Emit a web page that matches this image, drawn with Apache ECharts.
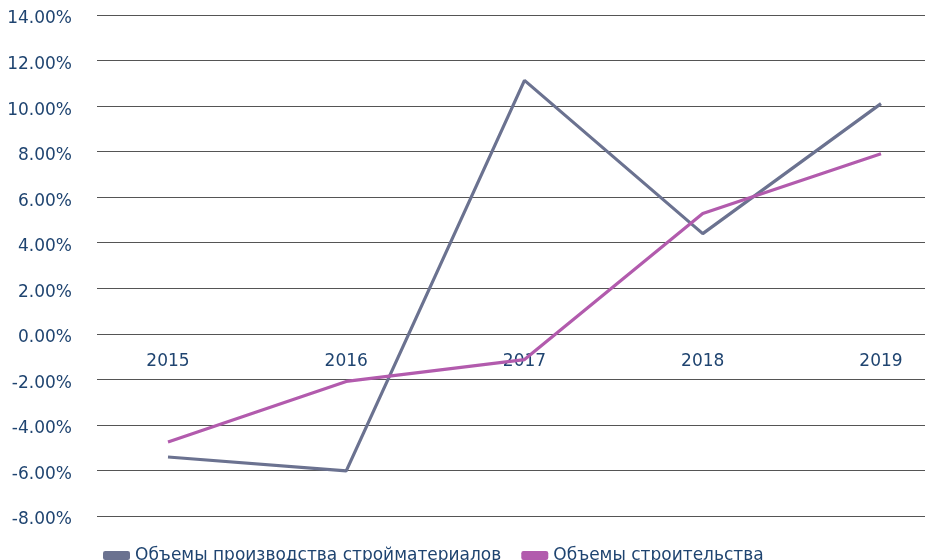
<!DOCTYPE html>
<html>
<head>
<meta charset="utf-8">
<script src="https://cdn.jsdelivr.net/npm/echarts@6/dist/echarts.min.js"></script>
<style>
  html, body { margin: 0; padding: 0; background: #fff; }
  #chart { width: 925px; height: 560px; }
</style>
</head>
<body>
<div id="chart"></div>
<script>
// данные (в процентах)
const years = ['2015', '2016', '2017', '2018', '2019'];
const materials = [-5.41, -6.02, 11.13, 4.40, 10.11];
const construction = [-4.75, -2.09, -1.13, 5.28, 7.91];
const seriesNames = ['Объемы производства стройматериалов', 'Объемы строительства'];

const textColor = '#1f4470';
const font = 'DejaVu Sans';
const yMin = -8, yMax = 14;

const chart = echarts.init(document.getElementById('chart'));

// подписи лет стоят на нулевой линии, а не внизу
const gridTop = 15, gridBottom = 44;
const plotH = 560 - gridTop - gridBottom;
const zeroOffset = -plotH * (0 - yMin) / (yMax - yMin);

const option = {
    animation: false,
    legend: {
        left: 98,
        top: 542,
        itemWidth: 27,
        itemHeight: 9,
        itemGap: 20,
        icon: 'roundRect',
        textStyle: { color: textColor, fontSize: 17, fontFamily: font },
        data: seriesNames
    },
    grid: [
        // сетка для линий и подписей оси Y
        { left: 97, right: 0, top: gridTop, bottom: gridBottom },
        // сетка для самих рядов
        { left: 168, right: 44, top: gridTop, bottom: gridBottom }
    ],
    xAxis: [
        { type: 'category', gridIndex: 0, data: years, show: false },
        {
            type: 'category',
            gridIndex: 1,
            data: years,
            boundaryGap: false,
            offset: zeroOffset,
            axisLine: { show: false, onZero: false },
            axisTick: { show: false },
            axisLabel: { color: textColor, fontSize: 17, fontFamily: font, margin: 19 }
        }
    ],
    yAxis: [
        {
            type: 'value',
            gridIndex: 0,
            min: yMin,
            max: yMax,
            interval: 2,
            axisLine: { show: false },
            axisTick: { show: false },
            splitLine: { lineStyle: { color: '#555', width: 1 } },
            axisLabel: {
                color: textColor,
                fontSize: 17,
                fontFamily: font,
                margin: 25,
                verticalAlign: 'top',
                lineHeight: 8,
                formatter: v => v.toFixed(2) + '%'
            }
        },
        {
            type: 'value',
            gridIndex: 1,
            min: yMin,
            max: yMax,
            interval: 2,
            show: false
        }
    ],
    series: [
        {
            name: seriesNames[0],
            type: 'line',
            xAxisIndex: 1,
            yAxisIndex: 1,
            data: materials,
            symbol: 'none',
            itemStyle: { color: '#6b7290' },
            lineStyle: { color: '#6b7290', width: 3.2 }
        },
        {
            name: seriesNames[1],
            type: 'line',
            xAxisIndex: 1,
            yAxisIndex: 1,
            data: construction,
            symbol: 'none',
            itemStyle: { color: '#b25bad' },
            lineStyle: { color: '#b25bad', width: 3.2 }
        }
    ]
};

chart.setOption(option);
</script>
</body>
</html>
